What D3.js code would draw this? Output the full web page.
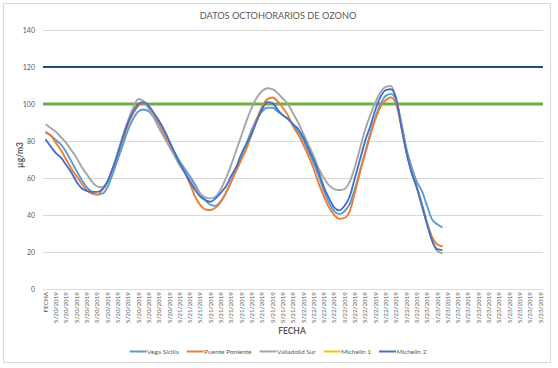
<!DOCTYPE html>
<html>
<head>
<meta charset="utf-8">
<script src="https://cdn.jsdelivr.net/npm/d3@7"></script>
<style>
  body { margin: 0; background: #fff; }
  text { font-family: Lato, "Open Sans", sans-serif; }
</style>
</head>
<body>
<div id="chart-area"></div>
<script>
// categories: header row + hourly readings (24 per day)
const days = ["5/20/2019", "5/21/2019", "5/22/2019", "5/23/2019"]
const categories = ["FECHA"]
days.forEach(d => { for (let h = 0; h < 24; h++) categories.push(d) })

const yTicks = [0, 20, 40, 60, 80, 100, 120, 140]
const limitValues = [120, 100]

const seriesNames = ["Vega Sicilia", "Puente Poniente", "Valladolid Sur", "Michelin 1", "Michelin 2"]

const vegaSicilia = [84.5, 83, 80.5, 78, 74, 69, 64, 59, 55, 52.5, 51, 51.5, 55, 62, 70, 78, 86, 92, 96, 97,
  96, 93, 89, 84, 79, 74, 69, 65, 61, 56.5, 51.5, 48, 45.5, 45, 47.5, 52, 58, 65, 72, 79,
  86, 92, 96, 98, 98, 96, 94, 92, 89, 85, 80.5, 74.5, 68, 61, 53, 46.5, 42, 40.5, 42, 46,
  54, 64, 74, 84, 93, 100, 104.5, 105.5, 102, 90, 76, 66, 58, 53, 45, 37.5, 35, 33.3]

const puentePoniente = [85, 83, 79, 75, 70, 65, 61, 57, 53.5, 51.5, 51, 53.5, 58, 65, 73, 81, 89, 95, 99, 100.5,
  99, 95, 90, 84, 78, 73, 68, 63, 57, 50, 45.5, 43, 42.7, 44, 47, 52, 58, 64, 70, 76,
  84, 92, 98.5, 102.5, 103.5, 101.5, 98, 94, 88, 83.5, 78, 72, 65, 57, 50, 44, 40, 38, 38.5, 42,
  52, 63, 73, 83, 92, 98.5, 102, 103.6, 100, 88, 74, 63, 55, 46, 36, 28, 24, 23]

const valladolidSur = [89, 87, 85, 82, 79, 75, 71, 66, 62, 58, 55.5, 55, 58, 65, 74, 83, 91, 98, 102.7, 101.5,
  97.5, 92.5, 87, 82, 77, 72, 67, 63, 59, 55, 51.5, 49.5, 49, 50, 54, 60, 67, 75, 83, 91,
  98, 103.5, 107, 108.5, 108, 106, 103, 100, 95, 90, 84, 78, 72, 65, 60, 56, 54, 53.5, 54, 58,
  66, 76, 86, 94, 101, 106.5, 109.3, 109.7, 103, 90, 74, 64, 55, 46, 36, 26, 20.5, 19.3]

const michelin1 = []

const michelin2 = [81, 77, 73.5, 71, 67, 63, 58, 54.5, 53, 52.5, 52.5, 54, 58, 65, 73, 82, 90, 96, 100, 101,
  99, 95, 91, 86, 80, 74, 68, 63, 58, 53.5, 50, 48, 47.2, 49, 52, 55.5, 61, 66, 73, 78.5,
  84, 91, 97, 101, 100.5, 97, 94, 92, 89, 86.5, 82, 76, 70, 63, 55, 49, 44, 42.5, 45, 50,
  60, 70, 80, 88, 97, 104, 107.5, 108, 103, 88, 74, 63, 55, 45, 35, 26, 21.5, 21]

const seriesValues = [vegaSicilia, puentePoniente, valladolidSur, michelin1, michelin2]
const colors = ["#5B9BD5", "#ED7D31", "#A5A5A5", "#FFC000", "#4472C4"]
const limitColors = ["#1F4E79", "#70AD47"]
const limitWidths = [2.2, 3.2]

const W = 558, H = 368
const PLOT = { LEFT: 43, RIGHT: 543, TOP: 30, BOTTOM: 289 }

const svg = d3.select("#chart-area")
  .append("svg")
    .attr("width", W)
    .attr("height", H)

// chart area border
svg.append("rect")
  .attr("x", 3.5).attr("y", 3.5)
  .attr("width", 547).attr("height", 359)
  .attr("fill", "#fff")
  .attr("stroke", "#D9D9D9")

// title
svg.append("text")
  .attr("x", 278).attr("y", 19)
  .attr("text-anchor", "middle")
  .attr("font-size", "9.2px")
  .attr("fill", "#595959")
  .text("DATOS OCTOHORARIOS DE OZONO")

const x = d3.scaleBand()
  .domain(d3.range(categories.length))
  .range([PLOT.LEFT, PLOT.RIGHT])

const y = d3.scaleLinear()
  .domain([0, 140])
  .range([PLOT.BOTTOM, PLOT.TOP])

// gridlines + y labels
const yAxis = svg.append("g")
  .attr("transform", `translate(${PLOT.LEFT}, 0)`)
  .call(d3.axisLeft(y).tickValues(yTicks).tickSize(-(PLOT.RIGHT - PLOT.LEFT)).tickPadding(8))
yAxis.select(".domain").remove()
yAxis.selectAll(".tick line").attr("stroke", "#D9D9D9").attr("stroke-width", 1)
yAxis.selectAll(".tick text")
  .attr("font-size", "7px")
  .attr("fill", "#595959")
  .attr("font-family", "Lato, sans-serif")

// x labels (every second category)
const xAxis = svg.append("g")
  .attr("transform", `translate(0, ${PLOT.BOTTOM})`)
  .call(d3.axisBottom(x)
    .tickValues(d3.range(0, categories.length, 2))
    .tickFormat(i => categories[i])
    .tickSize(0))
xAxis.select(".domain").remove()
xAxis.selectAll(".tick text")
  .attr("font-size", "6.3px")
  .attr("fill", "#595959")
  .attr("font-family", "Lato, sans-serif")
  .attr("text-anchor", "end")
  .attr("transform", "rotate(-90)")
  .attr("x", -3)
  .attr("y", 0)
  .attr("dy", "0.35em")

// axis titles
svg.append("text")
  .attr("x", 292).attr("y", 334)
  .attr("text-anchor", "middle")
  .attr("font-size", "8.5px")
  .attr("font-weight", "bold")
  .attr("fill", "#595959")
  .text("FECHA")

svg.append("text")
  .attr("transform", "translate(23, 155) rotate(-90)")
  .attr("text-anchor", "middle")
  .attr("font-size", "8.5px")
  .attr("font-weight", "bold")
  .attr("fill", "#595959")
  .text("µg/m3")

// limit lines
svg.selectAll(".limit")
  .data(limitValues)
  .enter().append("line")
    .attr("class", "limit")
    .attr("x1", PLOT.LEFT).attr("x2", PLOT.RIGHT)
    .attr("y1", d => y(d)).attr("y2", d => y(d))
    .attr("stroke", (d, i) => limitColors[i])
    .attr("stroke-width", (d, i) => limitWidths[i])

// series lines
const line = d3.line()
  .x((d, i) => x(i) + x.bandwidth() / 2)
  .y(d => y(d))
  .curve(d3.curveMonotoneX)

svg.selectAll(".series")
  .data(seriesValues)
  .enter().append("path")
    .attr("class", "series")
    .attr("d", d => d.length ? line(d) : null)
    .attr("fill", "none")
    .attr("stroke", (d, i) => colors[i])
    .attr("stroke-width", 1.9)
    .attr("stroke-linejoin", "round")

// legend
const legend = svg.append("g")
let lx = 0
seriesNames.forEach((name, i) => {
  const item = legend.append("g").attr("transform", `translate(${lx}, 0)`)
  item.append("line")
    .attr("x1", 0).attr("x2", 17)
    .attr("y1", 0).attr("y2", 0)
    .attr("stroke", colors[i])
    .attr("stroke-width", 2)
  const t = item.append("text")
    .attr("x", 17.5).attr("y", 2.3)
    .attr("font-size", "6.5px")
    .attr("fill", "#595959")
    .text(name)
  lx += 17.5 + t.node().getComputedTextLength() + 8
})
const legendWidth = lx - 8
legend.attr("transform", `translate(${278 - legendWidth / 2}, 351.5)`)
</script>
</body>
</html>
